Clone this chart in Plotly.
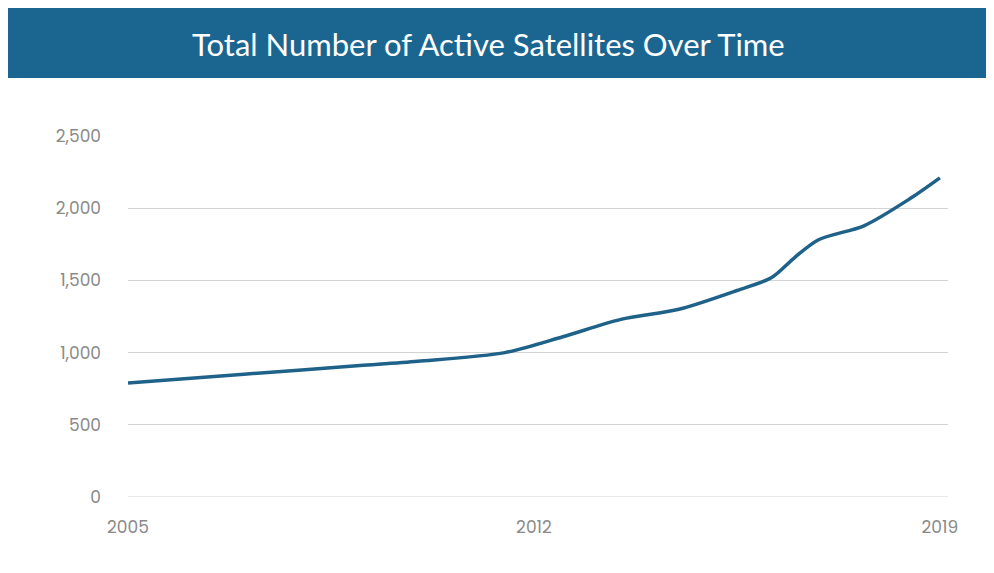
# Import necessary libraries
import plotly.graph_objects as go

# Data (fractional years, active satellites)
years = [2005.0, 2007.0, 2009.0, 2010.0, 2011.5, 2012.5, 2013.5, 2014.5,
         2015.5, 2016.1, 2016.5, 2016.9, 2017.7, 2018.5, 2019.0]
counts = [790, 850, 910, 940, 1000, 1110, 1230, 1300,
          1430, 1520, 1660, 1780, 1880, 2070, 2210]

line_color = '#1f6289'  # Dark blue line
banner_color = '#1b6691'  # Title banner


# Function to add custom styling to the plot
def add_plot_styling(fig):
    fig.update_layout(
        plot_bgcolor='white',
        paper_bgcolor='white',
        font=dict(family='Poppins, Lato, sans-serif', size=17, color='#8a8a8a'),
    )
    return fig


fig = go.Figure(data=go.Scatter(
    x=years,
    y=counts,
    mode='lines',
    line=dict(color=line_color, width=3.5, shape='spline', smoothing=0.8),
    hoverinfo='x+y',
))

# Title banner across the top (plot area is 361px tall, top margin 128px)
fig.add_shape(type='rect', xref='paper', yref='paper', x0=-0.2, x1=1.2,
              y0=1 + 58 / 361, y1=1 + 128 / 361,
              fillcolor=banner_color, line_width=0, layer='below')
fig.add_annotation(xref='paper', yref='paper', x=0.44, y=1 + 92 / 361, yanchor='middle',
                   text='Total Number of Active Satellites Over Time', showarrow=False,
                   font=dict(color='white', size=31, family='Lato, sans-serif'))

# axes
fig.update_xaxes(range=[2005, 2019.14], tickvals=[2005, 2012, 2019], showgrid=False,
                 zeroline=False, showline=False, ticks='', ticklabelstandoff=18)
fig.update_yaxes(range=[0, 2500], tickvals=[0, 500, 1000, 1500, 2000, 2500],
                 tickformat=',', gridcolor='#d3d3d3', zeroline=False, ticks='',
                 ticklabelstandoff=26, showline=False)
fig.add_hline(y=0, line_color='#d3d3d3', line_width=1)

# change the dimensions of the figure
fig.update_layout(
    width=994,
    height=573,
    margin=dict(l=120, r=54, t=128, b=84),
    showlegend=False,
)
fig = add_plot_styling(fig)

fig.write_html('out.html')
